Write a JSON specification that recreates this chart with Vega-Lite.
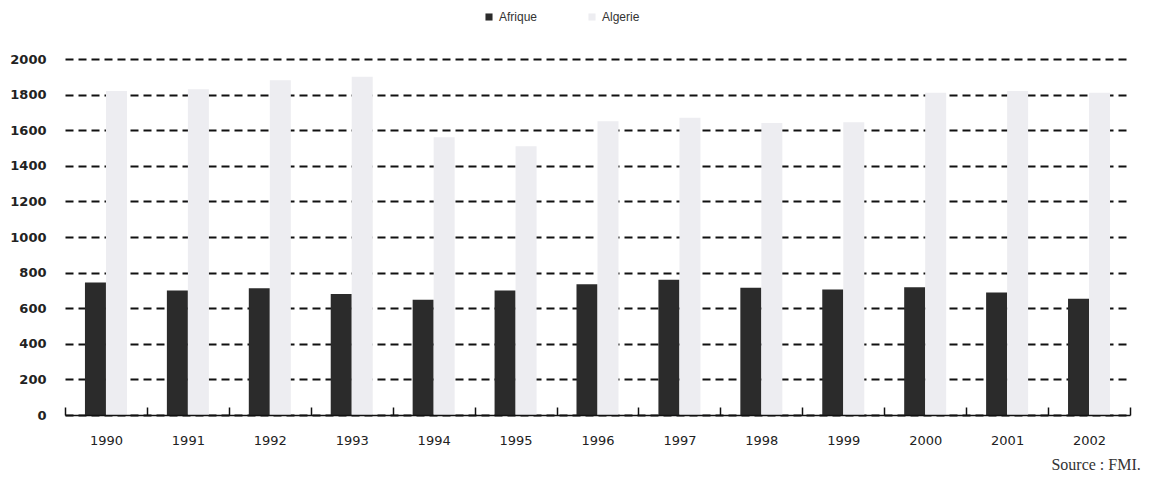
{
  "$schema": "https://vega.github.io/schema/vega-lite/v6.json",
  "width": 1065,
  "height": 356,
  "autosize": {"type": "none"},
  "padding": {"left": 65, "top": 59, "right": 19, "bottom": 62},
  "background": "#ffffff",
  "title": {
    "text": "Source : FMI.",
    "orient": "bottom",
    "anchor": "end",
    "font": "Liberation Serif",
    "fontSize": 16,
    "fontWeight": "normal",
    "color": "#333333",
    "offset": 10,
    "dx": 10
  },
  "data": {
    "values": [
      {"annee": "1990", "serie": "Afrique", "valeur": 745},
      {"annee": "1991", "serie": "Afrique", "valeur": 700},
      {"annee": "1992", "serie": "Afrique", "valeur": 712},
      {"annee": "1993", "serie": "Afrique", "valeur": 680},
      {"annee": "1994", "serie": "Afrique", "valeur": 648},
      {"annee": "1995", "serie": "Afrique", "valeur": 700},
      {"annee": "1996", "serie": "Afrique", "valeur": 735},
      {"annee": "1997", "serie": "Afrique", "valeur": 760},
      {"annee": "1998", "serie": "Afrique", "valeur": 715},
      {"annee": "1999", "serie": "Afrique", "valeur": 705},
      {"annee": "2000", "serie": "Afrique", "valeur": 718},
      {"annee": "2001", "serie": "Afrique", "valeur": 688},
      {"annee": "2002", "serie": "Afrique", "valeur": 653},
      {"annee": "1990", "serie": "Algerie", "valeur": 1820},
      {"annee": "1991", "serie": "Algerie", "valeur": 1830},
      {"annee": "1992", "serie": "Algerie", "valeur": 1880},
      {"annee": "1993", "serie": "Algerie", "valeur": 1900},
      {"annee": "1994", "serie": "Algerie", "valeur": 1560},
      {"annee": "1995", "serie": "Algerie", "valeur": 1510},
      {"annee": "1996", "serie": "Algerie", "valeur": 1650},
      {"annee": "1997", "serie": "Algerie", "valeur": 1670},
      {"annee": "1998", "serie": "Algerie", "valeur": 1640},
      {"annee": "1999", "serie": "Algerie", "valeur": 1645},
      {"annee": "2000", "serie": "Algerie", "valeur": 1810},
      {"annee": "2001", "serie": "Algerie", "valeur": 1820},
      {"annee": "2002", "serie": "Algerie", "valeur": 1810}
    ]
  },
  "mark": {"type": "bar", "stroke": null, "opacity": 1},
  "encoding": {
    "x": {
      "field": "annee",
      "type": "nominal",
      "title": null,
      "scale": {"paddingInner": 0, "paddingOuter": 0},
      "axis": {
        "labelAngle": 0,
        "labelFont": "DejaVu Sans",
        "labelFontSize": 13,
        "labelColor": "#222222",
        "labelPadding": 27,
        "domainColor": "#111111",
        "domainWidth": 1.5,
        "tickColor": "#111111",
        "tickWidth": 1.5,
        "tickSize": -8,
        "tickBand": "extent",
        "grid": false,
        "zindex": 1
      }
    },
    "xOffset": {
      "field": "serie",
      "type": "nominal",
      "scale": {"paddingInner": 0, "paddingOuter": 0.95}
    },
    "y": {
      "field": "valeur",
      "type": "quantitative",
      "title": null,
      "scale": {"domain": [0, 2000], "nice": false},
      "axis": {
        "values": [0, 200, 400, 600, 800, 1000, 1200, 1400, 1600, 1800, 2000],
        "format": "d",
        "labelFont": "DejaVu Sans",
        "labelFontSize": 13,
        "labelFontWeight": "bold",
        "labelColor": "#222222",
        "labelPadding": 19,
        "domain": false,
        "ticks": false,
        "grid": true,
        "gridColor": "#111111",
        "gridWidth": 2,
        "gridDash": [8, 5],
        "zindex": 0
      }
    },
    "color": {
      "field": "serie",
      "type": "nominal",
      "title": null,
      "scale": {"domain": ["Afrique", "Algerie"], "range": ["#2b2b2b", "#ededf1"]},
      "legend": {
        "orient": "none",
        "legendX": 418,
        "legendY": -48,
        "direction": "horizontal",
        "symbolType": "square",
        "symbolSize": 50,
        "labelFont": "Liberation Sans",
        "labelFontSize": 12,
        "labelColor": "#333333",
        "columnPadding": 48
      }
    }
  },
  "config": {
    "view": {"stroke": null},
    "axis": {"gridOpacity": 1}
  }
}
